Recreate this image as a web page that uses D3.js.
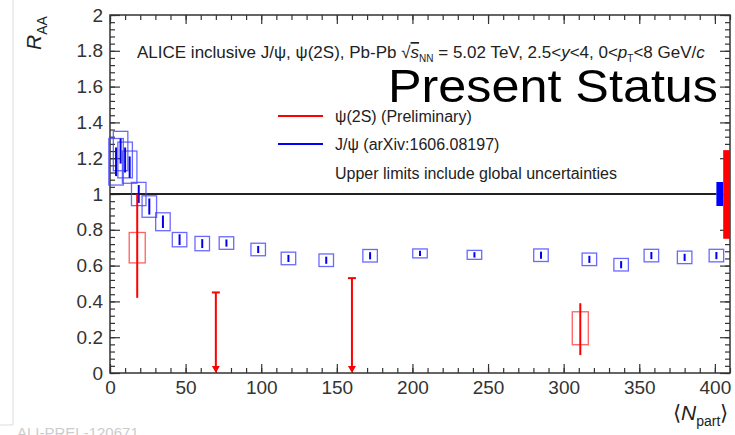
<!DOCTYPE html>
<html lang="en">
<head>
<meta charset="UTF-8">
<title>ALICE RAA vs Npart</title>
<script src="https://d3js.org/d3.v7.min.js"></script>
<style>
    body { margin: 0; background: white; }
    text { font-family: "Liberation Sans", Arial, sans-serif; fill: #222; }
    .tick text { font-size: 19px; fill: #333; }
    .tick line { stroke: #333; stroke-width: 1.2; }
</style>
</head>
<body>
<svg width="735" height="435"></svg>
<script>
// J/psi (arXiv:1606.08197)
const jpsiN    = [4, 7, 10, 13, 19, 26, 35, 46, 61, 77, 98, 118, 143, 172, 205, 241, 285, 317, 338, 358, 380, 401];
const jpsiR    = [1.18, 1.24, 1.19, 1.15, 1.00, 0.93, 0.845, 0.745, 0.723, 0.726, 0.69, 0.64, 0.63, 0.655, 0.668, 0.66, 0.658, 0.635, 0.605, 0.656, 0.646, 0.656];
const jpsiStat = [0.08, 0.07, 0.07, 0.06, 0.05, 0.045, 0.035, 0.03, 0.025, 0.02, 0.02, 0.02, 0.02, 0.02, 0.015, 0.015, 0.02, 0.02, 0.02, 0.02, 0.02, 0.02];
const jpsiSys  = [0.13, 0.11, 0.10, 0.09, 0.065, 0.06, 0.05, 0.04, 0.04, 0.035, 0.035, 0.035, 0.035, 0.035, 0.025, 0.025, 0.035, 0.035, 0.035, 0.035, 0.035, 0.035];

// psi(2S) preliminary
const psiN      = [18, 311];
const psiR      = [0.70, 0.25];
const psiStatLo = [0.42, 0.10];
const psiStatHi = [1.00, 0.39];
const psiSys    = [0.085, 0.092];
// psi(2S) upper limits
const ulN = [70, 160];
const ulR = [0.45, 0.53];

// global uncertainties at R = 1
const globalJpsi = [0.933, 1.067];
const globalPsi  = [0.75, 1.245];

const xTicks = [0, 50, 100, 150, 200, 250, 300, 350, 400];
const yTicks = [0, 0.2, 0.4, 0.6, 0.8, 1, 1.2, 1.4, 1.6, 1.8, 2];

const padL = 110, padR = 730, padT = 15, padB = 373;
const svg = d3.select('svg');

const x = d3.scaleLinear().domain([0, 410]).range([padL, padR]);
const y = d3.scaleLinear().domain([0, 2]).range([padB, padT]);

// axes (ROOT style, ticks inside)
svg.append('g')
    .attr('transform', `translate(0, ${padB})`)
    .call(d3.axisBottom(x).tickValues(xTicks).tickFormat(d3.format('d')).tickSizeInner(-9).tickSizeOuter(0).tickPadding(8))
    .call(g => g.select('.domain').remove());
svg.append('g')
    .attr('transform', `translate(0, ${padB})`)
    .call(d3.axisBottom(x).tickValues(d3.range(0, 411, 10)).tickFormat('').tickSizeInner(-5).tickSizeOuter(0))
    .call(g => g.select('.domain').remove());
svg.append('g')
    .attr('transform', `translate(0, ${padT})`)
    .call(d3.axisTop(x).tickValues(xTicks).tickFormat('').tickSizeInner(-9).tickSizeOuter(0))
    .call(g => g.select('.domain').remove());
svg.append('g')
    .attr('transform', `translate(0, ${padT})`)
    .call(d3.axisTop(x).tickValues(d3.range(0, 411, 10)).tickFormat('').tickSizeInner(-5).tickSizeOuter(0))
    .call(g => g.select('.domain').remove());

svg.append('g')
    .attr('transform', `translate(${padL}, 0)`)
    .call(d3.axisLeft(y).tickValues(yTicks).tickFormat(d3.format('~g')).tickSizeInner(-10).tickSizeOuter(0).tickPadding(7))
    .call(g => g.select('.domain').remove());
svg.append('g')
    .attr('transform', `translate(${padL}, 0)`)
    .call(d3.axisLeft(y).tickValues(d3.range(0, 2.001, 0.04)).tickFormat('').tickSizeInner(-5).tickSizeOuter(0))
    .call(g => g.select('.domain').remove());
svg.append('g')
    .attr('transform', `translate(${padR}, 0)`)
    .call(d3.axisRight(y).tickValues(yTicks).tickFormat('').tickSizeInner(-10).tickSizeOuter(0))
    .call(g => g.select('.domain').remove());
svg.append('g')
    .attr('transform', `translate(${padR}, 0)`)
    .call(d3.axisRight(y).tickValues(d3.range(0, 2.001, 0.04)).tickFormat('').tickSizeInner(-5).tickSizeOuter(0))
    .call(g => g.select('.domain').remove());

svg.append('rect')
    .attr('x', padL).attr('y', padT)
    .attr('width', padR - padL).attr('height', padB - padT)
    .attr('fill', 'none').attr('stroke', '#333').attr('stroke-width', 1.5);

// line at unity
svg.append('line')
    .attr('x1', x(0)).attr('x2', x(401))
    .attr('y1', y(1)).attr('y2', y(1))
    .attr('stroke', '#222').attr('stroke-width', 2);

// global uncertainty boxes
svg.append('rect')
    .attr('x', x(401)).attr('width', x(405.5) - x(401))
    .attr('y', y(globalJpsi[1])).attr('height', y(globalJpsi[0]) - y(globalJpsi[1]))
    .attr('fill', '#0000ff');
svg.append('rect')
    .attr('x', x(405.5)).attr('width', x(410) - x(405.5))
    .attr('y', y(globalPsi[1])).attr('height', y(globalPsi[0]) - y(globalPsi[1]))
    .attr('fill', '#ff0000');

const jpsi = jpsiN.map((n, i) => ({n, r: jpsiR[i], stat: jpsiStat[i], sys: jpsiSys[i]}));
const psi = psiN.map((n, i) => ({n, r: psiR[i], lo: psiStatLo[i], hi: psiStatHi[i], sys: psiSys[i]}));
const ul = ulN.map((n, i) => ({n, r: ulR[i]}));

// J/psi systematic boxes + stat bars
svg.append('g').selectAll('rect')
    .data(jpsi).join('rect')
    .attr('x', d => x(d.n - 4.8)).attr('width', d => x(d.n + 4.8) - x(d.n - 4.8))
    .attr('y', d => y(d.r + d.sys)).attr('height', d => y(d.r - d.sys) - y(d.r + d.sys))
    .attr('fill', 'none').attr('stroke', '#4444ff').attr('stroke-width', 1.3).attr('stroke-opacity', 0.8);
svg.append('g').selectAll('line')
    .data(jpsi).join('line')
    .attr('x1', d => x(d.n)).attr('x2', d => x(d.n))
    .attr('y1', d => y(d.r + d.stat)).attr('y2', d => y(d.r - d.stat))
    .attr('stroke', '#0000ee').attr('stroke-width', 2);

// psi(2S) points
svg.append('g').selectAll('rect')
    .data(psi).join('rect')
    .attr('x', d => x(d.n - 5.3)).attr('width', d => x(d.n + 5.3) - x(d.n - 5.3))
    .attr('y', d => y(d.r + d.sys)).attr('height', d => y(d.r - d.sys) - y(d.r + d.sys))
    .attr('fill', 'none').attr('stroke', '#ff4444').attr('stroke-width', 1.3).attr('stroke-opacity', 0.85);
svg.append('g').selectAll('line')
    .data(psi).join('line')
    .attr('x1', d => x(d.n)).attr('x2', d => x(d.n))
    .attr('y1', d => y(d.hi)).attr('y2', d => y(d.lo))
    .attr('stroke', '#ff0000').attr('stroke-width', 2);

// upper limits
const ulG = svg.append('g').selectAll('g').data(ul).join('g');
ulG.append('line')
    .attr('x1', d => x(d.n)).attr('x2', d => x(d.n))
    .attr('y1', d => y(d.r)).attr('y2', d => y(0) - 4)
    .attr('stroke', '#ff0000').attr('stroke-width', 2);
ulG.append('line')
    .attr('x1', d => x(d.n) - 4).attr('x2', d => x(d.n) + 4)
    .attr('y1', d => y(d.r)).attr('y2', d => y(d.r))
    .attr('stroke', '#ff0000').attr('stroke-width', 2);
ulG.append('path')
    .attr('d', d => `M${x(d.n) - 4},${y(0) - 7} L${x(d.n) + 4},${y(0) - 7} L${x(d.n)},${y(0)} Z`)
    .attr('fill', '#ff0000');

// header
const hdr = svg.append('text').attr('x', 137).attr('y', 58).style('font-size', '17px');
hdr.append('tspan').text('ALICE inclusive J/ψ, ψ(2S), Pb-Pb ');
hdr.append('tspan').text('√');
hdr.append('tspan').style('font-style', 'italic').attr('text-decoration', 'overline').text('s');
hdr.append('tspan').attr('dy', 4).style('font-size', '10px').text('NN');
hdr.append('tspan').attr('dy', -4).text(' = 5.02 TeV, 2.5<');
hdr.append('tspan').style('font-style', 'italic').text('y');
hdr.append('tspan').text('<4, 0<');
hdr.append('tspan').style('font-style', 'italic').text('p');
hdr.append('tspan').attr('dy', 4).style('font-size', '10px').text('T');
hdr.append('tspan').attr('dy', -4).text('<8 GeV/');
hdr.append('tspan').style('font-style', 'italic').text('c');

svg.append('text')
    .attr('x', 388).attr('y', 102)
    .style('font-size', '47px').style('fill', '#000')
    .attr('textLength', 330).attr('lengthAdjust', 'spacingAndGlyphs')
    .text('Present Status');

// legend
const legend = [
    {label: 'ψ(2S) (Preliminary)', color: '#ff0000', y: 116},
    {label: 'J/ψ (arXiv:1606.08197)', color: '#0000ff', y: 144}
];
svg.append('g').selectAll('line').data(legend).join('line')
    .attr('x1', 278).attr('x2', 323)
    .attr('y1', d => d.y).attr('y2', d => d.y)
    .attr('stroke', d => d.color).attr('stroke-width', 2);
svg.append('g').selectAll('text').data(legend).join('text')
    .attr('x', 335).attr('y', d => d.y + 6)
    .style('font-size', '16px')
    .text(d => d.label);
svg.append('text').attr('x', 335).attr('y', 179).style('font-size', '16px')
    .text('Upper limits include global uncertainties');

// axis titles
const yt = svg.append('text')
    .attr('transform', 'translate(41, 50) rotate(-90)')
    .style('font-size', '21px');
yt.append('tspan').style('font-style', 'italic').text('R');
yt.append('tspan').attr('dy', 6).style('font-size', '14px').text('AA');

const xt = svg.append('text').attr('x', 673).attr('y', 420).style('font-size', '21px');
xt.append('tspan').text('⟨');
xt.append('tspan').style('font-style', 'italic').text('N');
xt.append('tspan').attr('dy', 6).style('font-size', '14px').text('part');
xt.append('tspan').attr('dy', -6).text('⟩');

// frame of the pasted figure and preliminary tag
svg.append('path').attr('d', 'M13,0 V425 H0').attr('fill', 'none').attr('stroke', '#ddd').attr('stroke-width', 1);
svg.append('text').attr('x', 17).attr('y', 438).style('font-size', '15px').style('fill', '#ccc').text('ALI-PREL-120671');
</script>
</body>
</html>
